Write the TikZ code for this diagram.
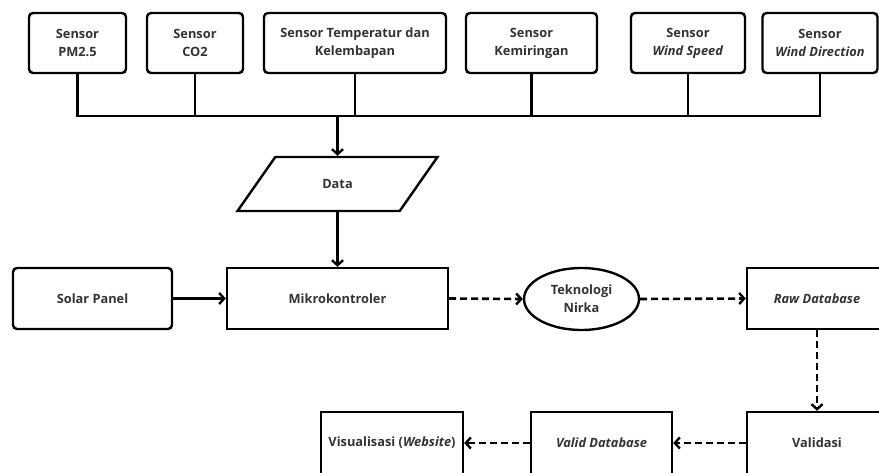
\documentclass[tikz,border=0pt]{standalone}
\usepackage{fontspec}
\setmainfont{Open Sans}
\usetikzlibrary{arrows.meta,shapes.geometric}
\definecolor{txt}{HTML}{333333}
\begin{document}
\begin{tikzpicture}[x=1pt,y=-1pt,
  every node/.style={font=\bfseries\fontsize{12.8}{18}\selectfont, text=txt, align=center, line width=2.4pt},
  rbox/.style={draw, rounded corners=4pt, inner sep=0pt},
  sbox/.style={draw, inner sep=0pt},
  conn/.style={line width=2.6pt},
  arr/.style={line width=2.6pt, -{Straight Barb[length=5pt,width=11pt,line width=2.4pt]}},
  darr/.style={arr, dash pattern=on 7pt off 4pt}
]
\useasboundingbox (0,0) rectangle (879,473);
\clip (0,0) rectangle (879,473);
% sensors
\node[rbox, minimum width=97pt, minimum height=60pt] (pm) at (77.5,43) {Sensor\\PM2.5};
\node[rbox, minimum width=96pt, minimum height=60pt] (co) at (195,43) {Sensor\\CO2};
\node[rbox, minimum width=182pt, minimum height=60pt] (tmp) at (355,43) {Sensor Temperatur dan\\Kelembapan};
\node[rbox, minimum width=131pt, minimum height=60pt] (kem) at (531.5,43) {Sensor\\Kemiringan};
\node[rbox, minimum width=114pt, minimum height=60pt] (ws) at (688,43) {Sensor\\\textit{Wind Speed}};
\node[rbox, minimum width=115pt, minimum height=60pt] (wd) at (820,43) {Sensor\\\textit{Wind Direction}};
\coordinate (bus) at (0,116);
% data
\node[draw, trapezium, trapezium left angle=45, trapezium right angle=135, trapezium stretches=true, minimum width=200pt, minimum height=54pt, inner sep=0pt] (data) at (337.5,184) {Data};
% middle row
\node[rbox, minimum width=159pt, minimum height=61pt] (solar) at (92.5,298.5) {Solar Panel};
\node[sbox, minimum width=221pt, minimum height=61pt] (mk) at (337.5,298.5) {Mikrokontroler};
\node[draw, ellipse, minimum width=115pt, minimum height=62pt, inner sep=0pt] (nir) at (581.5,299) {Teknologi\\Nirka};
\node[sbox, minimum width=140pt, minimum height=61pt] (raw) at (817,298.5) {\textit{Raw Database}};
% bottom row
\node[sbox, minimum width=140pt, minimum height=62pt] (val) at (817,443) {Validasi};
\node[sbox, minimum width=141pt, minimum height=62pt] (vdb) at (601.5,443) {\textit{Valid Database}};
\node[sbox, minimum width=142pt, minimum height=62pt] (vis) at (392,443) {Visualisasi (\textit{Website})};
% bus
\draw[conn] (pm.south) -- (pm.south |- bus) -- (wd.south |- bus) -- (wd.south);
\foreach \n in {co,tmp,kem,ws} \draw[conn] (\n.south) -- (\n.south |- bus);
\draw[arr] (data.north |- bus) -- (data.north);
\draw[arr] (data.south) -- (mk.north);
\draw[arr] (solar.east) -- (mk.west);
\draw[darr] (mk.east) -- (nir.west);
\draw[darr] (nir.east) -- (raw.west);
\draw[darr] (raw.south) -- (val.north);
\draw[darr] (val.west) -- (vdb.east);
\draw[darr] (vdb.west) -- (vis.east);
\end{tikzpicture}
\end{document}
